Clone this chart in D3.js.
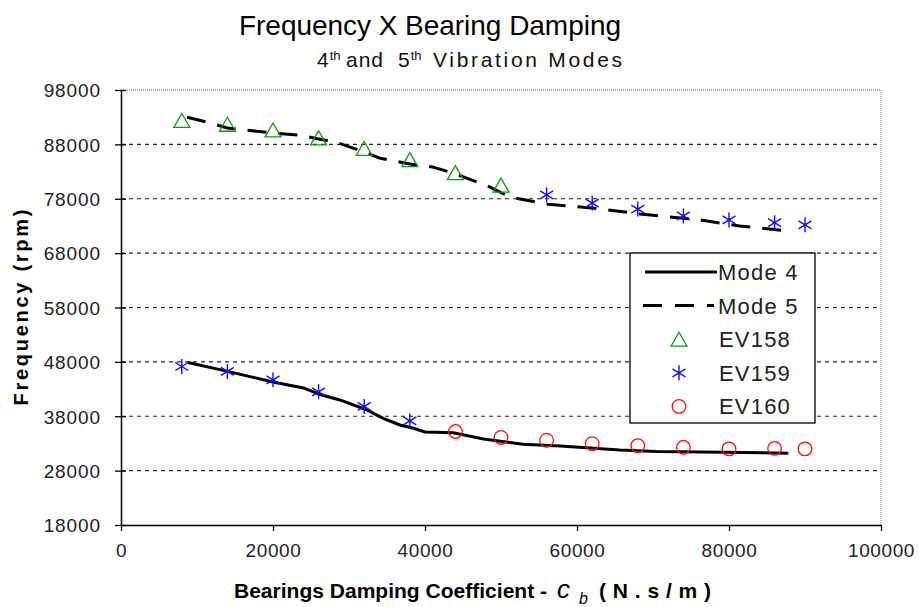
<!DOCTYPE html>
<html><head><meta charset="utf-8">
<script src="https://cdn.jsdelivr.net/npm/d3@7"></script>
<style>
html,body{margin:0;padding:0;background:#fff;}
svg{display:block;font-family:Arial,"Liberation Sans",sans-serif;}
</style></head>
<body>
<svg id="chart" width="919" height="607"></svg>
<script>
// ---- data ----
const xTicks = [0, 20000, 40000, 60000, 80000, 100000];
const yTicks = [18000, 28000, 38000, 48000, 58000, 68000, 78000, 88000, 98000];

const mode4X = [8800, 13900, 20000, 24000, 26200, 28800, 32300, 34500, 36700, 38500, 40000, 43700, 47700, 52900, 57800, 65600, 70500, 79200, 87800];
const mode4Y = [47900, 46300, 44300, 43200, 42000, 41000, 39200, 37600, 36400, 35800, 35100, 34950, 33800, 32850, 32550, 31800, 31500, 31400, 31200];

const mode5X = [8700, 11300, 14000, 20000, 23500, 26000, 28500, 31200, 34000, 38000, 41000, 44000, 46000, 48500, 51200, 56200, 62000, 68300, 76200, 81400, 87600];
const mode5Y = [93000, 92100, 91000, 90100, 89700, 89000, 88300, 87000, 85500, 84400, 83850, 82600, 81500, 80200, 78300, 77000, 76300, 75200, 74100, 73000, 72100];

const ev158X = [8000, 14000, 20000, 26000, 32000, 38000, 44000, 50000];
const ev158Y = [92400, 91700, 90650, 89200, 87250, 85200, 82800, 80500];

const ev159X = [8000, 14000, 20000, 26000, 32000, 38000, 56000, 62000, 68000, 74000, 80000, 86000, 90000];
const ev159Y = [47150, 46250, 44700, 42500, 39800, 37150, 78700, 77200, 76100, 74850, 74100, 73600, 73200];

const ev160X = [44000, 50000, 56000, 62000, 68000, 74000, 80000, 86000, 90000];
const ev160Y = [35200, 34100, 33600, 32950, 32600, 32300, 32000, 32100, 32000];

const legendLabels = ["Mode 4", "Mode 5", "EV158", "EV159", "EV160"];

// ---- layout ----
const svg = d3.select("#chart");
const L = 121, R = 881, T = 90, B = 525;
const x = d3.scaleLinear().domain([0, 100000]).range([L, R]);
const y = d3.scaleLinear().domain([18000, 98000]).range([B, T]);

const GREEN = "#1a961a", BLUE = "#1010ff", RED = "#ff1010";
const FONT = "Arial,'Liberation Sans',sans-serif";

// titles
svg.append("text").attr("x", 239).attr("y", 35)
  .attr("font-size", 28).attr("textLength", 382).attr("lengthAdjust", "spacing")
  .attr("fill", "#000").text("Frequency X Bearing Damping");

const sub = svg.append("text").attr("y", 67).attr("font-size", 21).attr("fill", "#111");
sub.append("tspan").attr("x", 317).text("4");
sub.append("tspan").attr("font-size", 13).attr("dy", -7).attr("dx", 1).text("th");
sub.append("tspan").attr("x", 346).attr("dy", 7).attr("letter-spacing", 1).text("and");
sub.append("tspan").attr("x", 398).text("5");
sub.append("tspan").attr("font-size", 13).attr("dy", -7).attr("dx", 1).text("th");
svg.append("text").attr("x", 433).attr("y", 67).attr("font-size", 21).attr("fill", "#111")
  .attr("textLength", 189).attr("lengthAdjust", "spacing").text("Vibration Modes");

// gridlines
const grid = yTicks.filter(v => v > 18000 && v < 98000);
svg.append("g").selectAll("line").data(grid).join("line")
  .attr("x1", L).attr("x2", R).attr("y1", d => y(d)).attr("y2", d => y(d))
  .attr("stroke", "#222").attr("stroke-width", 1.2).attr("stroke-dasharray", "4,4");

// plot border (top/right dotted gray)
svg.append("path")
  .attr("d", `M${L},${y(98000)}H${x(100000)}V${B}`)
  .attr("fill", "none").attr("stroke", "#9a9a9a").attr("stroke-width", 1.3).attr("stroke-dasharray", "1,1");

// axes
const gy = svg.append("g").attr("transform", `translate(${L},0)`)
  .call(d3.axisLeft(y).tickValues(yTicks).tickSizeInner(6).tickSizeOuter(0).tickPadding(14).tickFormat(d3.format("d")));
gy.attr("font-size", 19).attr("font-family", FONT);
gy.select(".domain").attr("stroke", "#000").attr("stroke-width", 1.5);
gy.selectAll(".tick line").attr("x1", 5).attr("stroke", "#000").attr("stroke-width", 1.3);
gy.selectAll(".tick text").attr("fill", "#222").attr("letter-spacing", 0.9).attr("dy", "0.36em");

const gx = svg.append("g").attr("transform", `translate(0,${B})`)
  .call(d3.axisBottom(x).tickValues(xTicks).tickSizeInner(6).tickSizeOuter(0).tickPadding(13).tickFormat(d3.format("d")));
gx.attr("font-size", 19).attr("font-family", FONT);
gx.select(".domain").attr("stroke", "#000").attr("stroke-width", 1.5);
gx.selectAll(".tick line").attr("stroke", "#000").attr("stroke-width", 1.3);
gx.selectAll(".tick text").attr("fill", "#222").attr("letter-spacing", 0.6);

// axis titles
svg.append("text").attr("transform", `translate(28,${(T + B) / 2}) rotate(-90)`)
  .attr("x", -98).attr("font-weight", "bold").attr("font-size", 20)
  .attr("textLength", 196).attr("lengthAdjust", "spacing").attr("fill", "#000").text("Frequency (rpm)");

svg.append("text").attr("x", 234).attr("y", 598).attr("font-size", 21).attr("font-weight", "bold")
  .attr("textLength", 313).attr("lengthAdjust", "spacing").attr("fill", "#000").text("Bearings Damping Coefficient -");
svg.append("text").attr("x", 557).attr("y", 598).attr("font-size", 26).attr("font-style", "italic").attr("fill", "#000").text("c");
svg.append("text").attr("x", 579).attr("y", 604).attr("font-size", 16).attr("font-style", "italic").attr("fill", "#000").text("b");
svg.append("text").attr("x", 599).attr("y", 598).attr("font-size", 21).attr("font-weight", "bold")
  .attr("textLength", 112).attr("lengthAdjust", "spacing").attr("fill", "#000").text("(N.s/m)");

// lines
const lineGen = d3.line().x(d => x(d[0])).y(d => y(d[1]));
svg.append("path").datum(d3.zip(mode4X, mode4Y)).attr("d", lineGen)
  .attr("fill", "none").attr("stroke", "#000").attr("stroke-width", 3);
svg.append("path").datum(d3.zip(mode5X, mode5Y)).attr("d", lineGen)
  .attr("fill", "none").attr("stroke", "#000").attr("stroke-width", 3).attr("stroke-dasharray", "19,12");

// markers
const triPath = "M0,-7L8,7L-8,7Z";
const starPath = "M0,-7.5V7.5M-6.5,-4L6.5,4M-6.5,4L6.5,-4";
svg.append("g").selectAll("path").data(d3.zip(ev158X, ev158Y)).join("path")
  .attr("transform", d => `translate(${x(d[0])},${y(d[1])})`).attr("d", triPath)
  .attr("fill", "none").attr("stroke", GREEN).attr("stroke-width", 1.3);
svg.append("g").selectAll("path").data(d3.zip(ev159X, ev159Y)).join("path")
  .attr("transform", d => `translate(${x(d[0])},${y(d[1])})`).attr("d", starPath)
  .attr("fill", "none").attr("stroke", BLUE).attr("stroke-width", 1.4);
svg.append("g").selectAll("circle").data(d3.zip(ev160X, ev160Y)).join("circle")
  .attr("cx", d => x(d[0])).attr("cy", d => y(d[1])).attr("r", 6.8)
  .attr("fill", "none").attr("stroke", RED).attr("stroke-width", 1.3);

// legend
const lg = svg.append("g").attr("transform", "translate(630,253)");
lg.append("rect").attr("width", 185).attr("height", 170).attr("fill", "#fff").attr("stroke", "#000").attr("stroke-width", 1.3);
const rowY = i => 19 + i * 33.6;
lg.append("line").attr("x1", 15).attr("x2", 87).attr("y1", rowY(0)).attr("y2", rowY(0)).attr("stroke", "#000").attr("stroke-width", 3);
lg.append("line").attr("x1", 13).attr("x2", 84).attr("y1", rowY(1)).attr("y2", rowY(1)).attr("stroke", "#000").attr("stroke-width", 3).attr("stroke-dasharray", "19,13");
lg.append("path").attr("transform", `translate(49,${rowY(2)})`).attr("d", triPath).attr("fill", "none").attr("stroke", GREEN).attr("stroke-width", 1.3);
lg.append("path").attr("transform", `translate(49,${rowY(3)})`).attr("d", starPath).attr("fill", "none").attr("stroke", BLUE).attr("stroke-width", 1.4);
lg.append("circle").attr("cx", 49).attr("cy", rowY(4)).attr("r", 6.8).attr("fill", "none").attr("stroke", RED).attr("stroke-width", 1.3);
lg.selectAll("text.lab").data(legendLabels).join("text").attr("class", "lab")
  .attr("x", (d, i) => i < 2 ? 88 : 89).attr("y", (d, i) => rowY(i) + 8)
  .attr("font-size", 22).attr("letter-spacing", 1.2).attr("fill", "#222").text(d => d);
</script>
</body></html>
